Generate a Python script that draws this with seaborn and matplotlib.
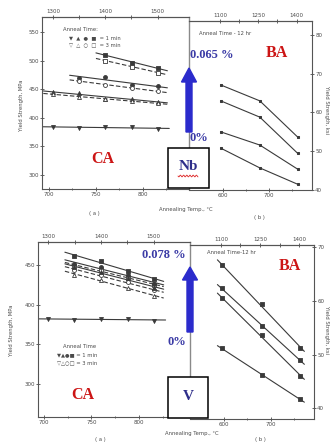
import numpy as np
import matplotlib
matplotlib.use("Agg")
import matplotlib.pyplot as plt
import seaborn as sns
from matplotlib.patches import FancyArrow, Rectangle

# --- data ---
# (a) Nb steel, continuous anneal (CA), yield strength MPa vs anneal temp C
nb_ca_x3 = [760, 788, 816]
nb_ca_x4 = [732, 760, 788, 816]
nb_ca_x5 = [704, 732, 760, 788, 816]
nb_sq_1min = [510, 496, 487]
nb_sq_3min = [500, 489, 479]
nb_ci_1min = [470, 471, 457, 455]
nb_ci_3min = [464, 458, 452, 446]
nb_tr_1min = [445, 443, 433, 433, 428]
nb_tr_3min = [441, 437, 433, 429, 425]
nb_dn_1min = [384, 382, 384, 384, 380]

# (b) Nb steel, batch anneal (BA), yield strength ksi
ba_x = [595, 680, 762]
nb_ba_1 = [67.1, 63.0, 53.7]
nb_ba_2 = [63.0, 58.8, 49.5]
nb_ba_3 = [55.0, 51.6, 45.4]
nb_ba_4 = [50.8, 45.7, 41.5]

# (a) V steel, CA
v_ca_x4 = [732, 760, 788, 816]
v_ca_x5 = [704, 732, 760, 788, 816]
v_sq_1min = [461, 455, 443, 432]
v_sq_3min = [449, 444, 434, 425]
v_ci_1min = [451, 448, 438, 426]
v_ci_3min = [444, 437, 428, 418]
v_tr_1min = [447, 441, 433, 421]
v_tr_3min = [438, 431, 421, 411]
v_dn_1min = [382, 381, 382, 382, 380]

# (b) V steel, BA
v_ba_1 = [66.6, 59.4, 51.2]
v_ba_2 = [62.4, 55.3, 49.0]
v_ba_3 = [60.5, 53.6, 46.0]
v_ba_4 = [51.2, 46.2, 41.7]

W, H = 330, 443
sns.set_style("ticks")
plt.rcParams['font.family'] = ['DejaVu Sans']

fig = plt.figure(figsize=(W / 100, H / 100), dpi=100)
INK = "#3a3a3a"
TXT = "#4a4a4a"
BLUE_TXT = "#3b3ba6"
ARROW = "#2b2bcc"
RED = "#cc1515"


def box(l, t, r, b):
    return [l / W, 1 - b / H, (r - l) / W, (b - t) / H]


def px(x, y):
    return x / 100, (H - y) / 100


def ftext(x, y, s, **kw):
    fig.text(*px(x, y), s, transform=fig.dpi_scale_trans, **kw)


def c2f(c):
    return np.asarray(c) * 9 / 5 + 32


def f2c(f):
    return (np.asarray(f) - 32) * 5 / 9


def style(ax):
    ax.set_facecolor("none")
    for s in ax.spines.values():
        s.set_linewidth(0.8)
        s.set_color("#555555")
    ax.tick_params(which="both", labelsize=4, length=2.5, width=0.6, pad=1,
                   colors=TXT, direction="inout")
    ax.tick_params(which="minor", length=1.8)


def top_f(ax, ticks, minor):
    sec = ax.secondary_xaxis("top", functions=(c2f, f2c))
    sec.set_xticks(ticks)
    sec.set_xticks(minor, minor=True)
    sec.tick_params(which="both", labelsize=4, length=2.5, width=0.6, pad=1,
                    colors=TXT, direction="inout")
    sec.spines["top"].set_linewidth(0.8)
    sec.spines["top"].set_color("#555555")


def fit_line(ax, x, y, pad, ls="-"):
    k, b = np.polyfit(x, y, 1)
    xs = np.array([min(x) - pad, max(x) + pad])
    ax.plot(xs, k * xs + b, color=INK, lw=0.8, ls=ls,
            dashes=(4, 2) if ls == "--" else (None, None))


def pts(ax, x, y, m, filled=True, s=8):
    sns.scatterplot(x=x, y=y, marker=m, s=s, ax=ax, legend=False,
                    color=INK if filled else "white", edgecolor=INK,
                    linewidth=0.6, zorder=3)


def ca_panel(ax, series, flat_x, flat_y):
    for x, y1, y3, m1, m3 in series:
        fit_line(ax, x, y1, 10)
        fit_line(ax, x, y3, 10, ls="--")
        pts(ax, x, y1, m1)
        pts(ax, x, y3, m3, filled=False)
    fit_line(ax, flat_x, flat_y, 12)
    pts(ax, flat_x, flat_y, "v")
    ax.set_xticks([700, 750, 800])
    ax.set_xticks([725, 775, 825], minor=True)
    ax.set_xlabel("")
    ax.set_ylabel("")
    top_f(ax, [1300, 1400, 1500], [1350, 1450])
    ax.spines["right"].set_color("#8a8a8a")
    ax.spines["right"].set_linewidth(1.0)


def ba_panel(ax, lines, straight):
    for y in lines:
        if straight:
            fit_line(ax, ba_x, y, 9)
            pts(ax, ba_x, y, "s", s=5)
        else:
            sns.lineplot(x=ba_x, y=y, marker="s", markersize=2.0, color=INK,
                         lw=0.8, ax=ax, legend=False, markeredgecolor=INK)
    ax.yaxis.tick_right()
    ax.spines["left"].set_visible(False)
    ax.set_xticks([600, 700])
    ax.set_xticks([650, 750], minor=True)
    ax.set_xlabel("")
    ax.set_ylabel("")
    top_f(ax, [1100, 1250, 1400], [1175, 1325])


# ---------- top: Nb ----------
ax1 = fig.add_axes(box(42, 17, 189, 189))
style(ax1)
ca_panel(ax1, [(nb_ca_x3, nb_sq_1min, nb_sq_3min, "s", "s"),
               (nb_ca_x4, nb_ci_1min, nb_ci_3min, "o", "o"),
               (nb_ca_x5, nb_tr_1min, nb_tr_3min, "^", "^")],
         nb_ca_x5, nb_dn_1min)
ax1.set_xlim(692.6, 849)
ax1.set_ylim(275.5, 576)
ax1.set_yticks([300, 350, 400, 450, 500, 550])

ax2 = fig.add_axes(box(189, 21, 312, 190))
style(ax2)
ba_panel(ax2, [nb_ba_1, nb_ba_2, nb_ba_3, nb_ba_4], straight=False)
ax2.set_xlim(526, 793.5)
ax2.set_ylim(40, 83.6)
ax2.set_yticks([40, 50, 60, 70, 80])

# ---------- bottom: V ----------
ax3 = fig.add_axes(box(38, 242, 190, 417))
style(ax3)
ca_panel(ax3, [(v_ca_x4, v_sq_1min, v_sq_3min, "s", "s"),
               (v_ca_x4, v_ci_1min, v_ci_3min, "o", "o"),
               (v_ca_x4, v_tr_1min, v_tr_3min, "^", "^")],
         v_ca_x5, v_dn_1min)
ax3.set_xlim(693.7, 853.7)
ax3.set_ylim(258.4, 479)
ax3.set_yticks([300, 350, 400, 450])

ax4 = fig.add_axes(box(190, 245, 314, 419))
style(ax4)
ba_panel(ax4, [v_ba_1, v_ba_2, v_ba_3, v_ba_4], straight=True)
ax4.set_xlim(527.7, 791.5)
ax4.set_ylim(38.0, 70.4)
ax4.set_yticks([40, 50, 60, 70])

# ---------- axis texts ----------
small = dict(fontsize=3.8, color=TXT)
ftext(21, 105, "Yield Strength, MPa", rotation=90, ha="center", va="center", **small)
ftext(326, 110, "Yield Strength, ksi", rotation=270, ha="center", va="center", **small)
ftext(12, 330, "Yield Strength, MPa", rotation=90, ha="center", va="center", **small)
ftext(326, 330, "Yield Strength, ksi", rotation=270, ha="center", va="center", **small)
ftext(186, 209, "Annealing Temp., °C", ha="center", va="center", **small)
ftext(192, 434, "Annealing Temp., °C", ha="center", va="center", **small)
ftext(94, 214, "( a )", ha="center", va="center", **small)
ftext(259, 217, "( b )", ha="center", va="center", **small)
ftext(100, 440, "( a )", ha="center", va="center", **small)
ftext(260, 439, "( b )", ha="center", va="center", **small)
ftext(225, 33, "Anneal Time - 12 hr", ha="center", va="center", **small)
ftext(232, 253, "Anneal Time-12 hr", ha="center", va="center", **small)

# legends written as text, like the scan
ftext(80, 29, "Anneal Time:", ha="center", va="center", **small)
ftext(95, 38, "▼  ▲  ●  ■  = 1 min", ha="center", va="center", **small)
ftext(95, 45, "▽  △  ○  □  = 3 min", ha="center", va="center", **small)
ftext(80, 347, "Anneal Time", ha="center", va="center", **small)
ftext(77, 355, "▼▲●■ = 1 min", ha="center", va="center", **small)
ftext(77, 363, "▽△○□ = 3 min", ha="center", va="center", **small)

# ---------- overlays ----------
bold_serif = dict(family="Liberation Serif", fontweight="bold")
for (xa, yb, yt, yh) in [(189, 132, 68, 82), (190, 332, 267, 280)]:
    x0, y0 = px(xa, yb)
    _, y1 = px(xa, yt)
    fig.add_artist(FancyArrow(x0, y0, 0, y1 - y0, width=0.06, head_width=0.15,
                              head_length=(yh - yt) / 100, length_includes_head=True,
                              color=ARROW, transform=fig.dpi_scale_trans, zorder=5))

ftext(190, 55, "0.065 %", ha="left", va="center", fontsize=9, color=BLUE_TXT, **bold_serif)
ftext(190, 138, "0%", ha="left", va="center", fontsize=9, color=BLUE_TXT, **bold_serif)
ftext(142, 255, "0.078 %", ha="left", va="center", fontsize=9, color=BLUE_TXT, **bold_serif)
ftext(186, 342, "0%", ha="right", va="center", fontsize=9, color=BLUE_TXT, **bold_serif)
ftext(277, 53, "BA", ha="center", va="center", fontsize=11.5, color=RED, **bold_serif)
ftext(103, 159, "CA", ha="center", va="center", fontsize=11.5, color=RED, **bold_serif)
ftext(290, 266, "BA", ha="center", va="center", fontsize=11.5, color=RED, **bold_serif)
ftext(83, 395, "CA", ha="center", va="center", fontsize=11.5, color=RED, **bold_serif)

for (l, t, r, b, lab) in [(168, 148, 209, 188, "Nb"), (168, 377, 208, 418, "V")]:
    x0, y0 = px(l, b)
    fig.add_artist(Rectangle((x0, y0), (r - l) / 100, (b - t) / 100, facecolor="white",
                             edgecolor="black", lw=1.1, transform=fig.dpi_scale_trans,
                             zorder=6))
    fig.text(*px((l + r) / 2, (t + b) / 2 - 1), lab, transform=fig.dpi_scale_trans,
             ha="center", va="center", fontsize=11, color="#2e2e8a", zorder=7,
             **bold_serif)

# red spell-check squiggle under "Nb"
wx = np.linspace(178, 198, 40)
wy = 176 + 0.9 * np.sin((wx - 178) * 2 * np.pi / 3.2)
fig.add_artist(plt.Line2D(wx / 100, (H - wy) / 100, color="#dd2222", lw=0.6,
                          transform=fig.dpi_scale_trans, zorder=8))

fig.savefig("out.png", dpi=100)
